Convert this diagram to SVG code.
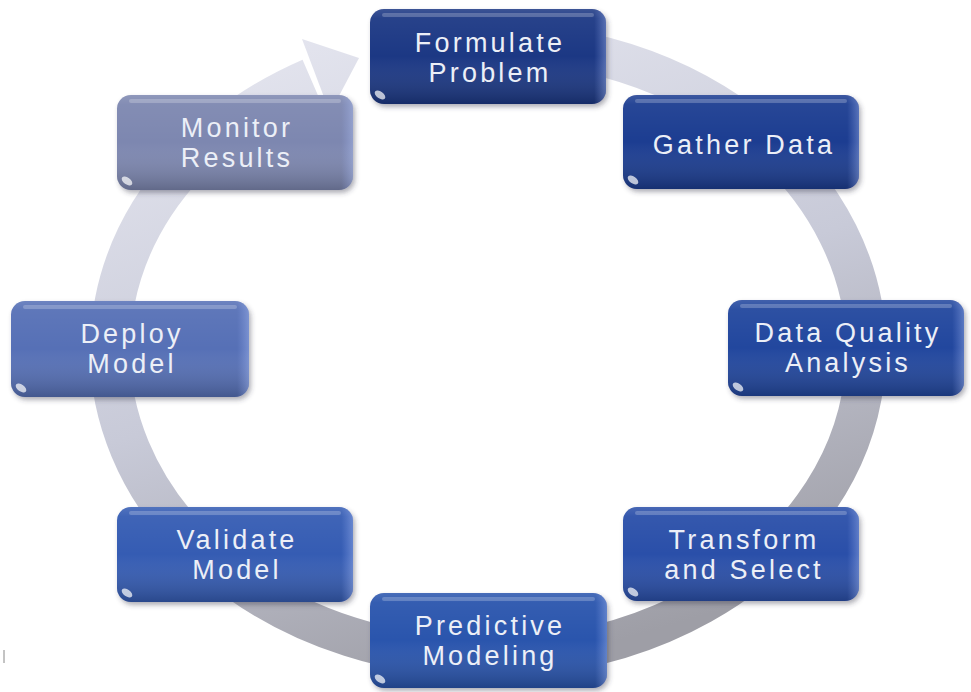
<svg xmlns="http://www.w3.org/2000/svg" width="971" height="692" viewBox="0 0 971 692">
<defs>
<linearGradient id="ringg" gradientUnits="userSpaceOnUse" x1="330" y1="30" x2="520" y2="670">
<stop offset="0" stop-color="#e3e4ee"/>
<stop offset="0.5" stop-color="#c8cad8"/>
<stop offset="1" stop-color="#9e9ea6"/>
</linearGradient>
<linearGradient id="gloss" x1="0" y1="0" x2="0" y2="1">
<stop offset="0" stop-color="#ffffff" stop-opacity="0.14"/>
<stop offset="0.1" stop-color="#ffffff" stop-opacity="0.05"/>
<stop offset="0.5" stop-color="#ffffff" stop-opacity="0"/>
<stop offset="1" stop-color="#000000" stop-opacity="0.22"/>
</linearGradient>
<linearGradient id="rim" x1="0" y1="0" x2="1" y2="0">
<stop offset="0.95" stop-color="#9fb6ff" stop-opacity="0"/>
<stop offset="1" stop-color="#b9ccff" stop-opacity="0.35"/>
</linearGradient>
<filter id="sh" x="-10%" y="-10%" width="125%" height="130%">
<feDropShadow dx="2" dy="3" stdDeviation="2.5" flood-color="#3a3a4a" flood-opacity="0.4"/>
</filter>
</defs>
<style>
.box{filter:url(#sh)}
.gloss{fill:url(#gloss)}
.rim{fill:url(#rim)}
.hl{fill:#ffffff;opacity:0.22}
.spot{fill:#ffffff;opacity:0.7}
.t{font-family:"Liberation Sans",Arial,sans-serif;font-size:27px;fill:#eceff7;text-anchor:middle;letter-spacing:3.2px}
.ring{fill:none;stroke:url(#ringg);stroke-width:40}
</style>
<rect width="971" height="692" fill="#ffffff"/>
<line x1="4" y1="650" x2="4" y2="663" stroke="#888" stroke-width="1"/>

<g id="connectors">
<path class="ring" d="M585.8 52.5 A378 308 0 1 1 310.5 78.1"/>
<polygon points="302,39 359,58 330,113" fill="url(#ringg)"/>
</g>

<g id="node-formulate">
<rect class="box" x="370" y="9" width="236" height="95" rx="14" fill="#1e3884"/>
<rect class="gloss" x="370" y="9" width="236" height="95" rx="14"/>
<rect class="rim" x="370" y="9" width="236" height="95" rx="14"/>
<rect class="hl" x="382" y="13" width="212" height="4" rx="2"/>
<ellipse class="spot" cx="380" cy="95" rx="6" ry="3.5" transform="rotate(35 380 95)"/>
<text class="t" x="490" y="52">Formulate</text>
<text class="t" x="490" y="82">Problem</text>
</g>

<g id="node-gather">
<rect class="box" x="623" y="95" width="236" height="94" rx="14" fill="#1f3d91"/>
<rect class="gloss" x="623" y="95" width="236" height="94" rx="14"/>
<rect class="rim" x="623" y="95" width="236" height="94" rx="14"/>
<rect class="hl" x="635" y="99" width="212" height="4" rx="2"/>
<ellipse class="spot" cx="633" cy="180" rx="6" ry="3.5" transform="rotate(35 633 180)"/>
<text class="t" x="744" y="154">Gather Data</text>
</g>

<g id="node-dqa">
<rect class="box" x="728" y="300" width="236" height="96" rx="14" fill="#23469e"/>
<rect class="gloss" x="728" y="300" width="236" height="96" rx="14"/>
<rect class="rim" x="728" y="300" width="236" height="96" rx="14"/>
<rect class="hl" x="740" y="304" width="212" height="4" rx="2"/>
<ellipse class="spot" cx="738" cy="387" rx="6" ry="3.5" transform="rotate(35 738 387)"/>
<text class="t" x="848" y="342">Data Quality</text>
<text class="t" x="848" y="372">Analysis</text>
</g>

<g id="node-transform">
<rect class="box" x="623" y="507" width="236" height="94" rx="14" fill="#294fa9"/>
<rect class="gloss" x="623" y="507" width="236" height="94" rx="14"/>
<rect class="rim" x="623" y="507" width="236" height="94" rx="14"/>
<rect class="hl" x="635" y="511" width="212" height="4" rx="2"/>
<ellipse class="spot" cx="633" cy="592" rx="6" ry="3.5" transform="rotate(35 633 592)"/>
<text class="t" x="744" y="549">Transform</text>
<text class="t" x="744" y="579">and Select</text>
</g>

<g id="node-predictive">
<rect class="box" x="370" y="593" width="237" height="95" rx="14" fill="#2c55ad"/>
<rect class="gloss" x="370" y="593" width="237" height="95" rx="14"/>
<rect class="rim" x="370" y="593" width="237" height="95" rx="14"/>
<rect class="hl" x="382" y="597" width="213" height="4" rx="2"/>
<ellipse class="spot" cx="380" cy="679" rx="6" ry="3.5" transform="rotate(35 380 679)"/>
<text class="t" x="490" y="635">Predictive</text>
<text class="t" x="490" y="665">Modeling</text>
</g>

<g id="node-validate">
<rect class="box" x="117" y="507" width="236" height="95" rx="14" fill="#365cb3"/>
<rect class="gloss" x="117" y="507" width="236" height="95" rx="14"/>
<rect class="rim" x="117" y="507" width="236" height="95" rx="14"/>
<rect class="hl" x="129" y="511" width="212" height="4" rx="2"/>
<ellipse class="spot" cx="127" cy="593" rx="6" ry="3.5" transform="rotate(35 127 593)"/>
<text class="t" x="237" y="549">Validate</text>
<text class="t" x="237" y="579">Model</text>
</g>

<g id="node-deploy">
<rect class="box" x="11" y="301" width="238" height="96" rx="14" fill="#5670b6"/>
<rect class="gloss" x="11" y="301" width="238" height="96" rx="14"/>
<rect class="rim" x="11" y="301" width="238" height="96" rx="14"/>
<rect class="hl" x="23" y="305" width="214" height="4" rx="2"/>
<ellipse class="spot" cx="21" cy="388" rx="6" ry="3.5" transform="rotate(35 21 388)"/>
<text class="t" x="132" y="343">Deploy</text>
<text class="t" x="132" y="373">Model</text>
</g>

<g id="node-monitor">
<rect class="box" x="117" y="95" width="236" height="95" rx="14" fill="#7d87b0"/>
<rect class="gloss" x="117" y="95" width="236" height="95" rx="14"/>
<rect class="rim" x="117" y="95" width="236" height="95" rx="14"/>
<rect class="hl" x="129" y="99" width="212" height="4" rx="2"/>
<ellipse class="spot" cx="127" cy="181" rx="6" ry="3.5" transform="rotate(35 127 181)"/>
<text class="t" x="237" y="137">Monitor</text>
<text class="t" x="237" y="167">Results</text>
</g>
</svg>
